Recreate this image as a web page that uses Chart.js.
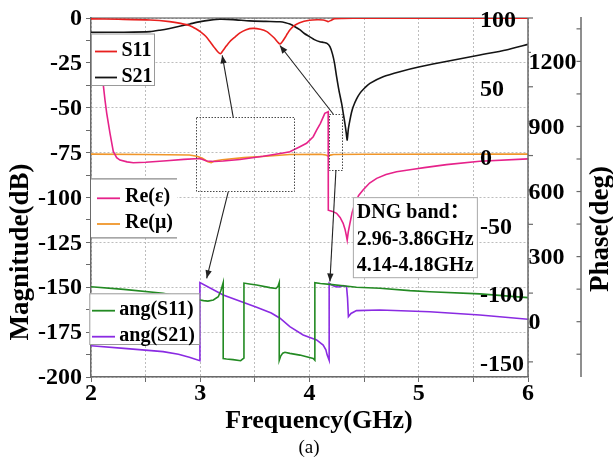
<!DOCTYPE html>
<html>
<head>
<meta charset="utf-8">
<script src="https://cdn.jsdelivr.net/npm/chart.js@4.4.1/dist/chart.umd.min.js"></script>
<style>
  html, body { margin: 0; padding: 0; background: #fff; }
  #c { display: block; width: 613px; height: 463px; }
</style>
</head>
<body>
<canvas id="c" width="613" height="463"></canvas>
<script>
// ---- tick labels ----
const freqTicks  = [2, 3, 4, 5, 6];
const magTicks   = [0, -25, -50, -75, -100, -125, -150, -175, -200];
const epsTicks   = [100, 50, 0, -50, -100, -150];
const phaseTicks = [0, 300, 600, 900, 1200];

// ---- |S11| and |S21| (dB) ----
const s11Freq = [2.0, 2.25, 2.54, 2.72, 2.82, 2.906, 2.96, 3.0, 3.05, 3.09, 3.13, 3.16, 3.185, 3.21, 3.24, 3.27, 3.32, 3.36, 3.42, 3.485, 3.55, 3.61, 3.65, 3.68, 3.71, 3.73, 3.75, 3.775, 3.8, 3.82, 3.86, 3.91, 4.0, 4.07, 4.125, 4.15, 4.17, 4.2, 4.23, 4.3, 4.5, 5.0, 6.0];
const s11Mag  = [-0.5, -0.7, -1.1, -2.0, -3.0, -4.3, -6.0, -7.6, -10.2, -13.2, -16.5, -18.8, -19.9, -18.0, -15.5, -13.2, -10.5, -8.4, -6.5, -5.8, -6.3, -7.6, -9.6, -11.3, -13.5, -14.5, -13.3, -11.0, -8.5, -6.7, -4.3, -2.6, -1.3, -1.0, -1.1, -1.5, -2.0, -1.2, -0.4, -0.2, -0.1, -0.1, -0.1];

const s21Freq = [2.0, 2.3, 2.54, 2.63, 2.72, 2.82, 2.906, 3.0, 3.09, 3.18, 3.3, 3.45, 3.6, 3.73, 3.78, 3.82, 3.87, 3.91, 3.95, 4.0, 4.05, 4.095, 4.13, 4.16, 4.187, 4.21, 4.23, 4.248, 4.27, 4.294, 4.31, 4.324, 4.335, 4.345, 4.355, 4.37, 4.385, 4.40, 4.43, 4.461, 4.5, 4.553, 4.674, 4.827, 5.01, 5.25, 5.56, 5.8, 6.0];
const s21Mag  = [-8.0, -7.9, -7.6, -6.8, -5.8, -4.5, -3.3, -2.0, -1.2, -0.7, -0.9, -1.6, -1.9, -2.1, -2.6, -3.4, -5.0, -6.5, -8.5, -10.4, -12.2, -13.2, -13.6, -14.1, -16.0, -20.0, -25.5, -32.7, -40.5, -47.6, -53.5, -58.7, -63.5, -68.0, -62.0, -56.9, -52.5, -49.4, -45.2, -42.0, -39.3, -36.4, -32.7, -29.9, -27.2, -24.2, -20.6, -17.8, -14.7];

// ---- effective parameters ----
const epsFreq = [2.0, 2.06, 2.09, 2.1125, 2.128, 2.144, 2.174, 2.204, 2.235, 2.265, 2.33, 2.387, 2.5, 2.693, 2.85, 2.997, 3.059, 3.13, 3.21, 3.363, 3.576, 3.759, 3.82, 3.912, 3.973, 4.034, 4.065, 4.1, 4.14, 4.171, 4.172, 4.21, 4.248, 4.28, 4.308, 4.325, 4.337, 4.345, 4.355, 4.37, 4.39, 4.415, 4.45, 4.49, 4.55, 4.615, 4.7, 4.797, 4.95, 5.05, 5.254, 5.559, 6.0];
const epsRe   = [80, 70, 62, 51.3, 40.4, 30.7, 16.1, 3.0, -1.5, -3.3, -4.6, -5.2, -4.9, -3.8, -2.8, -2.2, -4.0, -4.3, -4.0, -2.9, -0.5, 1.9, 2.8, 6.4, 8.9, 13.7, 18.5, 23.4, 30.7, 31.8, -39.7, -40.6, -42.0, -45.0, -49.3, -53.5, -58.0, -61.5, -55.5, -49.3, -41.5, -34.8, -29.0, -25.1, -20.0, -16.6, -13.8, -11.8, -10.0, -8.8, -6.6, -4.2, -2.4];

const muFreq = [2.0, 2.5, 2.9, 2.97, 3.02, 3.07, 3.1, 3.13, 3.2, 3.4, 3.6, 3.82, 4.1, 4.15, 4.17, 4.19, 4.22, 4.5, 6.0];
const muRe   = [1.0, 0.8, 0.4, -0.5, -2.0, -4.5, -5.2, -4.0, -3.0, -1.5, -0.5, 0.8, 0.9, 0.4, -0.4, 0.3, 0.8, 0.9, 1.0];

// ---- phases (deg), wrapped to +/-180 ----
const ang11Freq = [2.0, 2.3, 2.66, 2.85, 2.997, 3.03, 3.07, 3.12, 3.165, 3.19, 3.21, 3.21, 3.24, 3.3, 3.37, 3.39, 3.40, 3.40, 3.45, 3.516, 3.638, 3.693, 3.712, 3.723, 3.723, 3.735, 3.755, 3.775, 3.82, 3.912, 4.034, 4.049, 4.049, 4.1, 4.187, 4.37, 4.43, 4.644, 4.919, 5.10, 5.559, 6.0];
const ang11Deg  = [161, 149, 131, 112, 100, 97, 95, 100, 115, 145, 180, -170, -172, -175, -180, -172, -168, 178, 174, 169, 157, 153, 163, 180, -178, -160, -145, -141, -146, -154, -170, -178, 180, 176, 172, 162, 159, 154, 143, 138, 128, 111];

const ang21Freq = [2.0, 2.33, 2.66, 2.8, 2.9, 2.997, 2.997, 3.21, 3.516, 3.65, 3.73, 3.82, 3.942, 4.065, 4.125, 4.15, 4.162, 4.18, 4.18, 4.2, 4.232, 4.27, 4.308, 4.339, 4.348, 4.356, 4.38, 4.43, 4.644, 5.10, 5.559, 6.0];
const ang21Deg  = [-111, -124, -138, -150, -164, -180, 180, 123, 66, 40, 16, -23, -61, -84, -108, -130, -154, -178, 178, 170, 162, 160, 166, 162, 110, 23, 38, 51, 54, 46, 31, 11];

// ---- callout annotations (frequency in GHz, level in dB) ----
const calloutFrames = [
  { f0: 2.96, f1: 3.86,  m0: -55.4, m1: -96.9 },
  { f0: 4.18, f1: 4.295, m0: -53.5, m1: -84.7 }
];
const calloutArrows = [
  { from: [3.302, -55.4], to: [3.201, -20.8] },
  { from: [4.217, -53.5], to: [3.729, -15.3] },
  { from: [3.256, -96.9], to: [3.059, -145.0] },
  { from: [4.242, -84.7], to: [4.187, -146.8] }
];
const bandNote = ['DNG band：', '2.96-3.86GHz', '4.14-4.18GHz'];
const bandBox = { f0: 4.397, f1: 5.532, m0: -99.8, m1: -144.4 };

// ---- colours ----
const RED = '#e8201e', BLACK = '#141414', PINK = '#e6228a', ORANGE = '#f0962a', GREEN = '#238a23', PURPLE = '#8a2be2';
const GRID = '#bdbdbd', AXIS = '#6a6a6a';
const SERIF = '"Liberation Serif", "Times New Roman", "Noto Sans CJK SC", serif';

const pts = (fs, vs) => fs.map((f, i) => ({ x: f, y: vs[i] }));

function label(ctx, s, x, y, size, align, opt = {}) {
  ctx.save();
  ctx.font = (opt.normal ? '' : 'bold ') + size + 'px ' + SERIF;
  ctx.fillStyle = '#000';
  ctx.textAlign = align;
  ctx.textBaseline = 'middle';
  ctx.translate(x, y);
  if (opt.rot) ctx.rotate(opt.rot);
  ctx.fillText(s, 0, 0);
  ctx.restore();
}

function seg(ctx, x1, y1, x2, y2, color, w, dash) {
  ctx.save();
  ctx.strokeStyle = color; ctx.lineWidth = w;
  ctx.setLineDash(dash || []);
  ctx.beginPath(); ctx.moveTo(x1, y1); ctx.lineTo(x2, y2); ctx.stroke();
  ctx.restore();
}

function arrow(ctx, x1, y1, x2, y2) {
  seg(ctx, x1, y1, x2, y2, '#222', 1.1);
  const ang = Math.atan2(y2 - y1, x2 - x1), L = 8, W = 3.2;
  ctx.save();
  ctx.fillStyle = '#222';
  ctx.translate(x2, y2); ctx.rotate(ang);
  ctx.beginPath(); ctx.moveTo(0, 0); ctx.lineTo(-L, -W); ctx.lineTo(-L, W); ctx.closePath(); ctx.fill();
  ctx.restore();
}

// legend blocks: [x, y, w, h], border sides, entries
const legendBlocks = [
  { box: [91, 33.5, 63, 51.5], sides: 'all', entries: [[RED, 'S11', 51.5], [BLACK, 'S21', 77.5]], line: [95, 117], text: 121.5 },
  { box: [91, 178.3, 86, 59], sides: 'tb', entries: [[PINK, 'Re(ε)', 198.3], [ORANGE, 'Re(μ)', 224]], line: [97, 120], text: 125 },
  { box: [89.3, 293.3, 110, 50.7], sides: 'all', entries: [[GREEN, 'ang(S11)', 310.7], [PURPLE, 'ang(S21)', 336.7]], line: [92, 115], text: 119.3 }
];

const decor = {
  id: 'decor',
  beforeDatasetsDraw(chart) {
    const { ctx, chartArea: a } = chart;
    seg(ctx, a.left, a.top, a.right, a.top, '#4a4a4a', 1.2);
  },
  afterDatasetsDraw(chart) {
    const { ctx, chartArea: a, scales } = chart;
    const X = v => scales.x.getPixelForValue(v);
    const M = v => scales.y.getPixelForValue(v);
    const E = v => scales.yE.getPixelForValue(v);
    const P = v => scales.yP.getPixelForValue(v);

    // dotted callout frames
    ctx.save();
    ctx.strokeStyle = '#4a4a4a'; ctx.lineWidth = 1; ctx.setLineDash([1.5, 1.5]);
    calloutFrames.forEach(r => {
      ctx.strokeRect(Math.round(X(r.f0)) + 0.5, Math.round(M(r.m0)) + 0.5,
                     Math.round(X(r.f1) - X(r.f0)), Math.round(M(r.m1) - M(r.m0)));
    });
    ctx.restore();
    calloutArrows.forEach(ar => arrow(ctx, X(ar.from[0]), M(ar.from[1]), X(ar.to[0]), M(ar.to[1])));

    // legends
    legendBlocks.forEach(lb => {
      const [x, y, w, h] = lb.box;
      ctx.save();
      ctx.fillStyle = '#fff';
      ctx.fillRect(x, y, w, h);
      ctx.strokeStyle = '#9a9a9a'; ctx.lineWidth = 1;
      if (lb.sides === 'all') ctx.strokeRect(x + 0.5, y + 0.5, w, h);
      else { seg(ctx, x, y + 0.5, x + w, y + 0.5, '#8a8a8a', 1.2); seg(ctx, x, y + h + 0.5, x + w, y + h + 0.5, '#8a8a8a', 1.2); }
      ctx.restore();
      lb.entries.forEach(([col, txt, yy]) => {
        seg(ctx, lb.line[0], yy, lb.line[1], yy, col, 1.8);
        label(ctx, txt, lb.text, yy - 1, 20, 'left');
      });
    });

    // DNG band note
    const bx = X(bandBox.f0), by = M(bandBox.m0), bw = X(bandBox.f1) - bx, bh = M(bandBox.m1) - by;
    ctx.save();
    ctx.fillStyle = '#fff'; ctx.fillRect(bx, by, bw, bh);
    ctx.strokeStyle = '#a8a8a8'; ctx.lineWidth = 1; ctx.strokeRect(bx + 0.5, by + 0.5, bw, bh);
    ctx.restore();
    bandNote.forEach((t, i) => label(ctx, t, bx + 4, by + 16 + i * 26.5, 20, 'left'));

    // inner right axis (Re eps / Re mu)
    seg(ctx, a.right, a.top, a.right, a.bottom, AXIS, 1.5);
    for (let v = -150; v <= 100; v += 25) {
      const y = E(v);
      seg(ctx, a.right, y, a.right + (v % 50 === 0 ? 5 : 3), y, AXIS, 1.2);
    }
    epsTicks.forEach(v => label(ctx, String(v), a.right - 48, E(v) + 3, 24, 'left'));

    // outer right axis (phase)
    const ox = a.right + 53;
    seg(ctx, ox, a.top - 1, ox, a.bottom, AXIS, 1.5);
    for (let v = -150; v <= 1350; v += 150) {
      const y = P(v);
      seg(ctx, ox, y, ox - 4.5, y, AXIS, 1.2);
    }
    phaseTicks.forEach(v => label(ctx, String(v), a.right + 0.5, P(v) + 1.5, 24, 'left'));

    // left and bottom tick labels
    magTicks.forEach(v => label(ctx, String(v), a.left - 9, M(v) + 1, 24, 'right'));
    freqTicks.forEach(v => label(ctx, String(v), X(v), a.bottom + 17, 24, 'center'));

    // axis titles
    label(ctx, 'Magnitude(dB)', 21, 252, 27, 'center', { rot: -Math.PI / 2 });
    label(ctx, 'Phase(deg)', 601, 229, 27, 'center', { rot: -Math.PI / 2 });
    label(ctx, 'Frequency(GHz)', 319, 421, 26, 'center');
    label(ctx, '(a)', 309, 448, 19, 'center', { normal: true });
  }
};

const line = (lbl, fs, vs, color, axis, tension) => ({
  label: lbl, data: pts(fs, vs), yAxisID: axis,
  borderColor: color, backgroundColor: color, borderWidth: 1.6,
  pointRadius: 0, fill: false, tension: tension || 0
});

new Chart(document.getElementById('c'), {
  type: 'line',
  data: {
    datasets: [
      line('S11', s11Freq, s11Mag, RED, 'y', 0.25),
      line('S21', s21Freq, s21Mag, BLACK, 'y', 0.2),
      line('Re(ε)', epsFreq, epsRe, PINK, 'yE'),
      line('Re(μ)', muFreq, muRe, ORANGE, 'yE'),
      line('ang(S11)', ang11Freq, ang11Deg, GREEN, 'yP'),
      line('ang(S21)', ang21Freq, ang21Deg, PURPLE, 'yP')
    ]
  },
  options: {
    responsive: false,
    animation: false,
    devicePixelRatio: 1,
    layout: { padding: { top: 18, right: 85, bottom: 0, left: 0 } },
    plugins: { legend: { display: false }, tooltip: { enabled: false } },
    scales: {
      x: {
        type: 'linear', min: 2, max: 6,
        ticks: { stepSize: 0.5, display: false },
        grid: { color: GRID, tickColor: AXIS, tickLength: 5, lineWidth: 1 },
        border: { color: AXIS, width: 1.5, dash: [2, 2] },
        afterFit(s) { s.height = 86; }
      },
      y: {
        type: 'linear', min: -200, max: 0,
        ticks: { stepSize: 12.5, display: false },
        grid: {
          color: c => (c.tick && Math.abs(c.tick.value % 25) < 1e-6) ? GRID : 'rgba(0,0,0,0)',
          tickColor: AXIS, tickLength: 5, lineWidth: 1
        },
        border: { color: AXIS, width: 1.5, dash: [2, 2] },
        afterFit(s) { s.width = 91; }
      },
      yE: { type: 'linear', position: 'right', display: false, min: -161, max: 100 },
      yP: { type: 'linear', position: 'right', display: false, min: -255, max: 1400 }
    }
  },
  plugins: [decor]
});
</script>
</body>
</html>
